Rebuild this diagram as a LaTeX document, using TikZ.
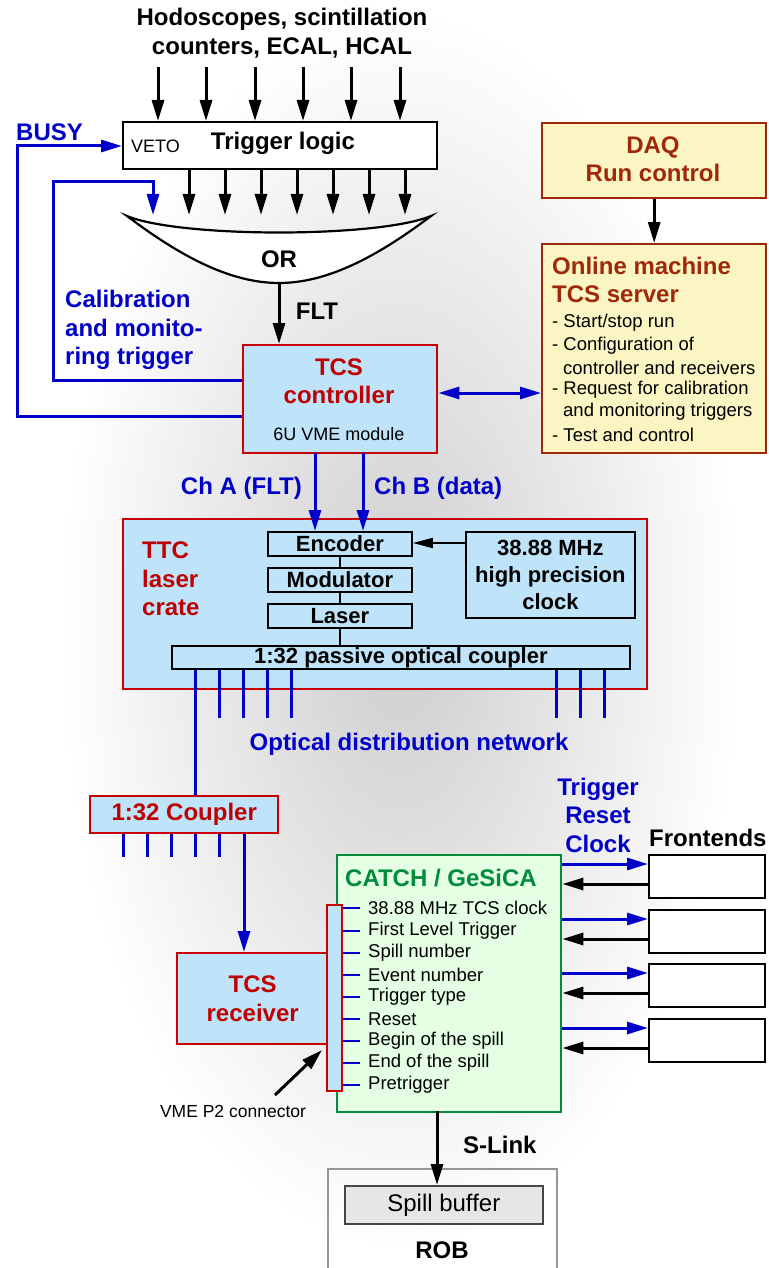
\documentclass[tikz,border=0pt]{standalone}
\usepackage{fontspec}
\setmainfont{Liberation Sans}
\usetikzlibrary{arrows.meta,calc}
\definecolor{bl}{RGB}{0,0,200}
\definecolor{rd}{RGB}{200,0,0}
\definecolor{rdt}{RGB}{190,0,0}
\definecolor{lb}{RGB}{191,228,250}
\definecolor{yf}{RGB}{250,245,195}
\definecolor{br}{RGB}{160,40,10}
\definecolor{gr}{RGB}{0,140,60}
\definecolor{gf}{RGB}{228,255,228}
\definecolor{rg}{RGB}{150,150,150}
\definecolor{sf}{RGB}{230,230,230}
\definecolor{dg}{RGB}{70,70,70}
\definecolor{bgc}{RGB}{205,205,207}
\tikzset{
  big/.style={font=\fontsize{24}{28.5}\selectfont\bfseries, inner sep=0pt},
  mid/.style={font=\fontsize{22}{27}\selectfont\bfseries, inner sep=0pt},
  sml/.style={font=\fontsize{18.5}{22}\selectfont, inner sep=0pt},
  arr/.style={draw=black, line width=3pt, -{Triangle[length=21pt,width=12pt]}},
  barr/.style={draw=bl, line width=3pt, -{Triangle[length=21pt,width=12pt]}},
  bline/.style={draw=bl, line width=3pt},
  bx/.style={draw=black, line width=2.2pt, fill=white, inner sep=0pt, anchor=north west},
  rbox/.style={draw=rd, line width=2.4pt, fill=lb, inner sep=0pt, anchor=north west},
  ybox/.style={draw=br, line width=2.4pt, fill=yf, inner sep=0pt, anchor=north west},
  gbox/.style={draw=gr, line width=2.4pt, fill=gf, inner sep=0pt, anchor=north west},
  ibox/.style={draw=black, line width=1.8pt, fill=lb, inner sep=0pt, anchor=north west},
}
\begin{document}
\begin{tikzpicture}[x=1pt,y=-1pt]
\useasboundingbox (0,0) rectangle (768,1268);
\begin{scope}
\clip (0,0) rectangle (768,1268);
\fill[white] (0,0) rectangle (768,1268);
\shade[inner color=bgc, outer color=white] (400,630) ellipse (340 and 620);
\end{scope}

% ---------- top inputs and trigger logic
\node[big, align=center] (src) at (282,33) {Hodoscopes, scintillation\\counters, ECAL, HCAL};
\node[bx, minimum width=314, minimum height=47] (trig) at (122,121) {};
\node[font=\fontsize{18}{20}\selectfont, inner sep=0pt, anchor=west] (veto) at (131,146) {VETO};
\node[big] (tl) at (283,143) {Trigger logic};
\foreach \x [count=\i] in {158,206,255,303,351,400} {
  \coordinate (in\i) at (\x,67);
  \draw[arr] (in\i) -- (in\i |- trig.north);
}
\foreach \x [count=\i] in {189,225,261,297,333,369,405} {
  \coordinate (o\i) at (\x,215);
  \draw[arr] (o\i |- trig.south) -- (o\i);
}
% OR gate
\draw[line width=2.2pt, fill=white] (127,216) .. controls (180,238) and (378,238) .. (431,216)
   .. controls (378,256) and (328,283) .. (279,283) .. controls (230,283) and (180,256) .. cycle;
\node[big] (orl) at (279,259) {OR};
\coordinate (orb) at (279,283);

% ---------- TCS controller
\node[rbox, minimum width=194, minimum height=108] (tcs) at (242,344) {};
\node[big, text=rdt, align=center] (tcst) at (339,381) {TCS\\controller};
\node[font=\fontsize{18}{20}\selectfont, inner sep=0pt] (vme) at (339,434) {6U VME module};
\draw[arr] (orb) -- (orb |- tcs.north);
\node[big] (flt) at (317,311) {FLT};

% BUSY and calibration loops
\coordinate (busyL) at (17,416);
\coordinate (busyT) at (17,146);
\draw[barr] (tcs.west |- busyL) -- (busyL) -- (busyT) -- (trig.west |- busyT);
\node[big, text=bl, anchor=west] (busy) at (16,132) {BUSY};
\coordinate (calL) at (53,380);
\coordinate (calT) at (53,182);
\coordinate (calR) at (153,182);
\coordinate (calE) at (153,215);
\draw[barr] (tcs.west |- calL) -- (calL) -- (calT) -- (calR) -- (calE);
\node[big, text=bl, align=left, anchor=west] (calib) at (65,330) {Calibration\\and monito-\\ring trigger};

% ---------- DAQ / Online machine
\node[ybox, minimum width=224, minimum height=75] (daq) at (541,122) {};
\node[big, text=br, align=center] (daqt) at (653,159) {DAQ\\Run control};
\node[ybox, minimum width=224, minimum height=209] (onl) at (541,243) {};
\draw[arr] (daq.south) -- (onl.north);
\node[big, text=br, align=left, anchor=west] (onlt) at (552,280) {Online machine\\TCS server};
\node[sml, anchor=west] (it1) at (552,323) {- Start/stop run};
\node[sml, anchor=west] (it2) at (552,346) {- Configuration of};
\node[sml, anchor=west] (it3) at (563,368) {controller and receivers};
\node[sml, anchor=west] (it4) at (552,390) {- Request for calibration};
\node[sml, anchor=west] (it5) at (563,412) {and monitoring triggers};
\node[sml, anchor=west] (it6) at (552,435) {- Test and control};
\coordinate (dy) at (0,393);
\draw[bline, {Triangle[length=21pt,width=12pt]}-{Triangle[length=21pt,width=12pt]}] (tcs.east |- dy) -- (onl.west |- dy);

% ---------- TTC laser crate
\node[rbox, minimum width=524, minimum height=170] (ttc) at (122,518) {};
\node[big, text=rdt, align=left, anchor=west] (ttct) at (142,579) {TTC\\laser\\crate};
\node[ibox, minimum width=144, minimum height=24] (enc) at (267,531) {};
\node[mid] at (enc.center) {Encoder};
\node[ibox, minimum width=144, minimum height=24] (mod) at (267,567) {};
\node[mid] at (mod.center) {Modulator};
\node[ibox, minimum width=144, minimum height=24] (las) at (267,603) {};
\node[mid] at (las.center) {Laser};
\node[ibox, minimum width=169, minimum height=86] (clk) at (465,531) {};
\node[mid, align=center] at (clk.center) {38.88 MHz\\high precision\\clock};
\node[ibox, minimum width=458, minimum height=23] (cpl) at (171,645) {};
\node[mid] at (cpl.center) {1:32 passive optical coupler};
\draw[line width=1.8pt] (enc.south) -- (mod.north);
\draw[line width=1.8pt] (mod.south) -- (las.north);
\draw[line width=1.8pt] (las.south) -- (las.south |- cpl.north);
\coordinate (ay) at (0,543);
\draw[line width=2pt, -{Triangle[length=20pt,width=10pt]}] (clk.west |- ay) -- (enc.east |- ay);

% Ch A / Ch B
\coordinate (chA) at (315,453);
\coordinate (chB) at (363,453);
\draw[barr] (chA) -- (chA |- enc.north);
\draw[barr] (chB) -- (chB |- enc.north);
\node[big, text=bl, anchor=east] (cha) at (302,488) {Ch A (FLT)};
\node[big, text=bl, anchor=west] (chb) at (374,488) {Ch B (data)};

% fibres
\foreach \x [count=\i] in {219,243,267,291,556,580,604} {
  \coordinate (f\i) at (\x,718);
  \draw[bline] (f\i |- cpl.south) -- (f\i);
}
\node[big, text=bl] (odn) at (409,744) {Optical distribution network};

% ---------- 1:32 coupler
\node[rbox, minimum width=188, minimum height=37] (cp2) at (89,795) {};
\node[big, text=rdt] at (cp2.center) {1:32 Coupler};
\coordinate (f0) at (195,700);
\draw[bline] (f0 |- cpl.south) -- (f0 |- cp2.north);
\foreach \x [count=\i] in {123,147,171,195,219} {
  \coordinate (g\i) at (\x,857);
  \draw[bline] (g\i |- cp2.south) -- (g\i);
}

% ---------- CATCH
\node[gbox, minimum width=224, minimum height=257] (catch) at (336,854) {};
\node[big, text=gr, anchor=west] (catt) at (345,878) {CATCH / GeSiCA};

% TCS receiver
\node[rbox, minimum width=151, minimum height=91] (rcv) at (176,952) {};
\node[big, text=rdt, align=center] at (rcv.center) {TCS\\receiver};
\coordinate (rA) at (244,840);
\draw[barr] (rA |- cp2.south) -- (rA |- rcv.north);
\node[rbox, minimum width=15, minimum height=186] (p2) at (326,904) {};

\foreach \y/\t [count=\i] in {908/38.88 MHz TCS clock, 931/First Level Trigger, 953/Spill number, 975/Event number, 997/Trigger type, 1019/Reset, 1041/Begin of the spill, 1063/End of the spill, 1085/Pretrigger} {
  \coordinate (c\i) at (360,\y);
  \draw[draw=bl, line width=2pt] (p2.east |- c\i) -- (c\i);
  \node[sml, anchor=west] at (368,\y) {\t};
}

% VME P2 connector label
\node[font=\fontsize{17.5}{20}\selectfont, inner sep=0pt] (vmel) at (233,1111) {VME P2 connector};
\coordinate (va) at (275,1095);
\coordinate (vb) at (322,1050);
\draw[arr] (va) -- (vb);

% ---------- Frontends
\node[big, anchor=west] (fet) at (649,838) {Frontends};
\node[big, text=bl, align=center] (trc) at (598,815) {Trigger\\Reset\\Clock};
\foreach \y [count=\i] in {854,909,963,1018} {
  \node[bx, line width=2pt, minimum width=116, minimum height=43] (fe\i) at (648,\y) {};
  \coordinate (u\i) at (0,\y+10);
  \coordinate (d\i) at (0,\y+30);
  \draw[barr] (catch.east |- u\i) -- (fe\i.west |- u\i);
  \draw[arr] (fe\i.west |- d\i) -- (catch.east |- d\i);
}

% ---------- S-Link / ROB
\draw[draw=rg, line width=2.4pt] (328,1275) -- (328,1169) -- (557,1169) -- (557,1275);
\node[draw=dg, line width=1.6pt, fill=sf, inner sep=0pt, anchor=north west, minimum width=198, minimum height=38] (spill) at (344,1185) {};
\node[font=\fontsize{24}{28}\selectfont, inner sep=0pt] at (spill.center) {Spill buffer};
\node[big] (rob) at (442,1250) {ROB};
\coordinate (sl) at (437,1111);
\draw[arr] (sl) -- (sl |- spill.north);
\node[big, anchor=west] (slink) at (463,1145) {S-Link};
\end{tikzpicture}
\end{document}
